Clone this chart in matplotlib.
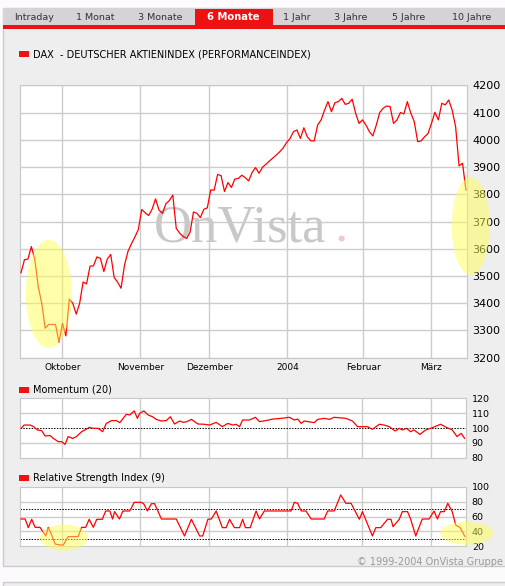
import matplotlib
matplotlib.use("Agg")
import matplotlib.pyplot as plt
from matplotlib.patches import Rectangle, Ellipse
import numpy as np

# chart data (trading-day index from mid September 2003 to mid March 2004)
dax = [3512, 3560, 3562, 3608, 3560, 3460, 3400, 3308, 3322, 3322,
       3322, 3256, 3326, 3280, 3415, 3400, 3360, 3400, 3478, 3471,
       3536, 3537, 3570, 3565, 3516, 3562, 3579, 3495, 3477, 3455,
       3540, 3590, 3618, 3643, 3670, 3744, 3732, 3722, 3745, 3783,
       3742, 3730, 3765, 3777, 3797, 3675, 3657, 3645, 3638, 3660,
       3735, 3730, 3714, 3745, 3750, 3816, 3815, 3873, 3868, 3810,
       3843, 3825, 3856, 3858, 3870, 3861, 3849, 3880, 3898, 3877,
       3899, 3910, 3922, 3933, 3944, 3956, 3970, 3990, 4005, 4030,
       4036, 4005, 4044, 4011, 3996, 3996, 4054, 4073, 4109, 4140,
       4103, 4136, 4140, 4152, 4130, 4134, 4149, 4098, 4060, 4073,
       4054, 4030, 4014, 4054, 4100, 4116, 4124, 4122, 4060, 4073,
       4100, 4095, 4140, 4098, 4067, 3993, 3996, 4011, 4023, 4060,
       4101, 4073, 4134, 4128, 4146, 4109, 4048, 3904, 3914, 3815]

mom_day = [0, 0.9, 2.6, 3.6, 4.7, 6, 7, 8.4, 9.4, 10.8, 11.8, 12.8, 13.7, 15, 16.1,
           17.6, 18.6, 19.8, 21, 22.4, 23.7, 24.8, 26.3, 27.7, 28.7, 30.6, 31.6,
           32.9, 33.8, 34.5, 35.7, 36.9, 38.2, 39.3, 40.8, 42.2, 43.4, 44.6, 46.1,
           47.2, 48.2, 49.5, 51.4, 53.3, 54.8, 56.7, 58.5, 60.1, 61.5, 62.5, 63.5,
           64.4, 66.4, 68.1, 69.3, 71.2, 73.1, 75.6, 78, 79.4, 80.4, 81.4, 82.3,
           85.2, 86.2, 88.1, 89.6, 91, 94.4, 96.3, 97.8, 100.7, 102.1, 104.1, 105.5,
           107, 108.7, 109.9, 110.8, 112, 113.2, 114.2, 115.9, 117.6, 119.5, 121.9,
           123.8, 125.3, 126.7, 127.9, 128.9]
mom_val = [99.8, 102, 102, 101, 98.7, 98.2, 94.6, 95, 93, 90.8, 90.8, 89, 94.2, 93, 94.2,
           97.5, 98.7, 100.4, 99.8, 99.8, 97.5, 103.1, 105, 105, 103.6, 109.2, 108.8,
           111.5, 106.5, 109.9, 111.5, 108.8, 107.6, 105.8, 104.7, 105, 107.6, 102.7, 104.7,
           103.8, 104.3, 105.8, 102.7, 102.5, 102, 103.8, 100.9, 103.1, 102, 102.5, 100.9,
           105.4, 105.4, 107.2, 104.3, 105, 106, 106.5, 107.2, 105.4, 106, 103.1, 104.7,
           103.6, 105.8, 106.5, 105.8, 107.2, 106.5, 104.7, 100.9, 100.9, 99.1, 102.5, 102,
           100.9, 98, 99.8, 98.7, 99.8, 97.5, 98.7, 95.7, 98.7, 100.2, 102.5,
           100.2, 98.7, 94.2, 96.4, 93]

rsi_day = [0, 1.2, 2.1, 3.1, 4.1, 5.5, 7.2, 7.9, 8.9, 9.9, 11.3, 12.3, 13.7, 16.6, 17.6,
           18.8, 19.8, 21, 22, 23.6, 24.6, 25.8, 26.6, 27.2, 28.6, 29.6, 31.6, 32.9, 35,
           35.7, 36.7, 37.9, 38.8, 40.8, 45.1, 47.5, 49.5, 51.9, 52.8, 54.3, 55.3, 56.7,
           58.5, 59.6, 60.6, 62, 63.5, 64.4, 65.2, 66.6, 68.3, 69.3, 70.7, 78.5, 79.4,
           80.4, 81.4, 82.8, 84.3, 88.1, 89.1, 91, 92.9, 94.4, 95.9, 98.3, 99.2, 102.1,
           103.1, 104.5, 106.5, 107.5, 108.1, 109.9, 110.8, 112.3, 113.2, 114.7, 116.6,
           118.6, 120, 121, 121.9, 123, 124, 125.3, 126.3, 127.6, 129]
rsi_val = [56.6, 56.6, 44.9, 56.2, 45.3, 45.3, 33.6, 45.3, 34.9, 22.7, 21.4, 21.4, 32.7, 32.7, 45.3,
           45.3, 56.2, 45.3, 56.2, 56.2, 67.5, 67.5, 56.6, 66.6, 56.6, 67.5, 67.5, 79.2, 79.2,
           76.9, 67.5, 77.4, 77.4, 56.6, 56.6, 33.6, 56.2, 33.6, 33.6, 56.2, 56.6, 67.5,
           44.9, 44.9, 56.2, 44.9, 44.9, 56.2, 44.9, 44.9, 67.5, 56.6, 67.5, 67.5, 79.2,
           77.9, 67.5, 67.5, 56.6, 56.6, 67.5, 67.5, 89.2, 77.9, 77.9, 56.2, 66.6, 33.6,
           44.9, 44.9, 56.2, 56.2, 46.2, 56.2, 66.6, 66.6, 56.6, 33.6, 56.6,
           56.6, 67.5, 56.6, 66.6, 66.6, 77.9, 66.6, 48.5, 44.9, 32.7]

month_pos = [12, 34.6, 54.6, 77.2, 99.2, 119]
month_labels = ["Oktober", "November", "Dezember", "2004", "Februar", "März"]
tabs = ["Intraday", "1 Monat", "3 Monate", "6 Monate", "1 Jahr", "3 Jahre", "5 Jahre", "10 Jahre"]
tab_x = [34.5, 95.3, 160, 233.5, 297, 351, 409, 471.5]

RED = "#ee1111"
GRID = "#cccccc"
W, H = 506, 586

fig = plt.figure(figsize=(W / 100, H / 100), dpi=100, facecolor="#fdfafd")


def box(x0, y0, x1, y1, face, edge="none", z=-10):
    fig.patches.append(Rectangle((x0 / W, 1 - y1 / H), (x1 - x0) / W, (y1 - y0) / H,
                                 transform=fig.transFigure, facecolor=face,
                                 edgecolor=edge, lw=1, zorder=z))


def blob(cx, cy, w, h):
    fig.patches.append(Ellipse((cx / W, 1 - cy / H), w / W, h / H, transform=fig.transFigure,
                               facecolor="#ffff55", edgecolor="none", alpha=0.5, zorder=20))


def panel(l, t, r, b):
    ax = fig.add_axes([l / W, 1 - b / H, (r - l) / W, (b - t) / H])
    ax.set_facecolor("white")
    for s in ax.spines.values():
        s.set_color("#c8c8c8")
    ax.set_axisbelow(True)
    ax.yaxis.tick_right()
    ax.set_xticks(month_pos)
    ax.xaxis.grid(True, color=GRID, lw=1)
    ax.set_xlim(-0.3, 129.3)
    return ax


def legend_item(y, label):
    box(19, y - 3, 29, y + 3, RED, z=5)
    fig.text(33 / W, 1 - y / H, label, fontsize=7, va="center", ha="left")


# page chrome
box(3.5, 8, 510, 565.7, "#eeeeee", edge="#cccccc")
box(3.5, 582.3, 510, 592, "#eeeeee", edge="#cccccc")
box(3.5, 8, 506, 24.7, "#d5d2d8", z=-9)
box(3.5, 24.7, 506, 29, RED, z=-8)
box(195, 9.3, 272.7, 25, RED, z=-8)
for name, x in zip(tabs, tab_x):
    if name == "6 Monate":
        fig.text(x / W, 1 - 17.3 / H, name, fontsize=7.2, fontweight="bold",
                 color="white", ha="center", va="center")
    else:
        fig.text(x / W, 1 - 17.3 / H, name, fontsize=6.8, color="#333333",
                 ha="center", va="center")

# DAX chart
ax1 = panel(20, 85.3, 467, 357.7)
ax1.plot(np.arange(len(dax)), dax, color="red", lw=0.9, zorder=3)
ax1.set_ylim(3200, 4200)
ax1.set_yticks(range(3200, 4201, 100))
ax1.yaxis.grid(True, color=GRID, lw=1)
ax1.set_xticklabels(month_labels)
ax1.tick_params(axis="y", length=0, pad=3.6, labelsize=8)
ax1.tick_params(axis="x", length=0, pad=3.8, labelsize=6.5)
ax1.text(154 / W, 1 - 241.7 / H, "OnVista", transform=fig.transFigure, fontsize=38,
         family="Liberation Serif", color="#c8c8c8", ha="left", va="baseline", zorder=0.3)
ax1.text(334.5 / W, 1 - 241.7 / H, ".", transform=fig.transFigure, fontsize=38,
         family="Liberation Serif", color="#f2c8cc", ha="left", va="baseline", zorder=0.3)
legend_item(54.2, "DAX  - DEUTSCHER AKTIENINDEX (PERFORMANCEINDEX)")

# Momentum
ax2 = panel(20, 398.3, 466, 457.7)
ax2.plot(mom_day, mom_val, color="red", lw=0.9, zorder=3)
ax2.set_ylim(80, 120)
ax2.set_yticks([80, 90, 100, 110, 120])
for v in [90, 110]:
    ax2.axhline(v, color=GRID, lw=1, zorder=0.5)
ax2.axhline(100, color="black", lw=0.72, ls=(0, (1.4, 1.4)), zorder=2)
ax2.set_xticklabels([])
ax2.tick_params(axis="both", length=0, pad=4.2, labelsize=6.8)
legend_item(389.7, "Momentum (20)")

# RSI
ax3 = panel(20, 487, 466, 546)
ax3.plot(rsi_day, rsi_val, color="red", lw=0.9, zorder=3)
ax3.set_ylim(20, 100)
ax3.set_yticks([20, 40, 60, 80, 100])
for v in [40, 60, 80]:
    ax3.axhline(v, color=GRID, lw=1, zorder=0.5)
for v in [30, 70]:
    ax3.axhline(v, color="black", lw=0.72, ls=(0, (1.4, 1.4)), zorder=2)
ax3.set_xticklabels([])
ax3.tick_params(axis="both", length=0, pad=4.2, labelsize=6.8)
legend_item(477.7, "Relative Strength Index (9)")

fig.text(503 / W, 1 - 561.7 / H, "\u00a9 1999-2004 OnVista Gruppe", fontsize=7,
         color="#999999", ha="right", va="center")

# yellow highlights
blob(48.8, 294, 46, 108)
blob(470.8, 226, 38, 98)
blob(64, 537.5, 48, 26)
blob(466.7, 533.3, 53, 23)

fig.savefig("out.png", dpi=100, facecolor=fig.get_facecolor())
